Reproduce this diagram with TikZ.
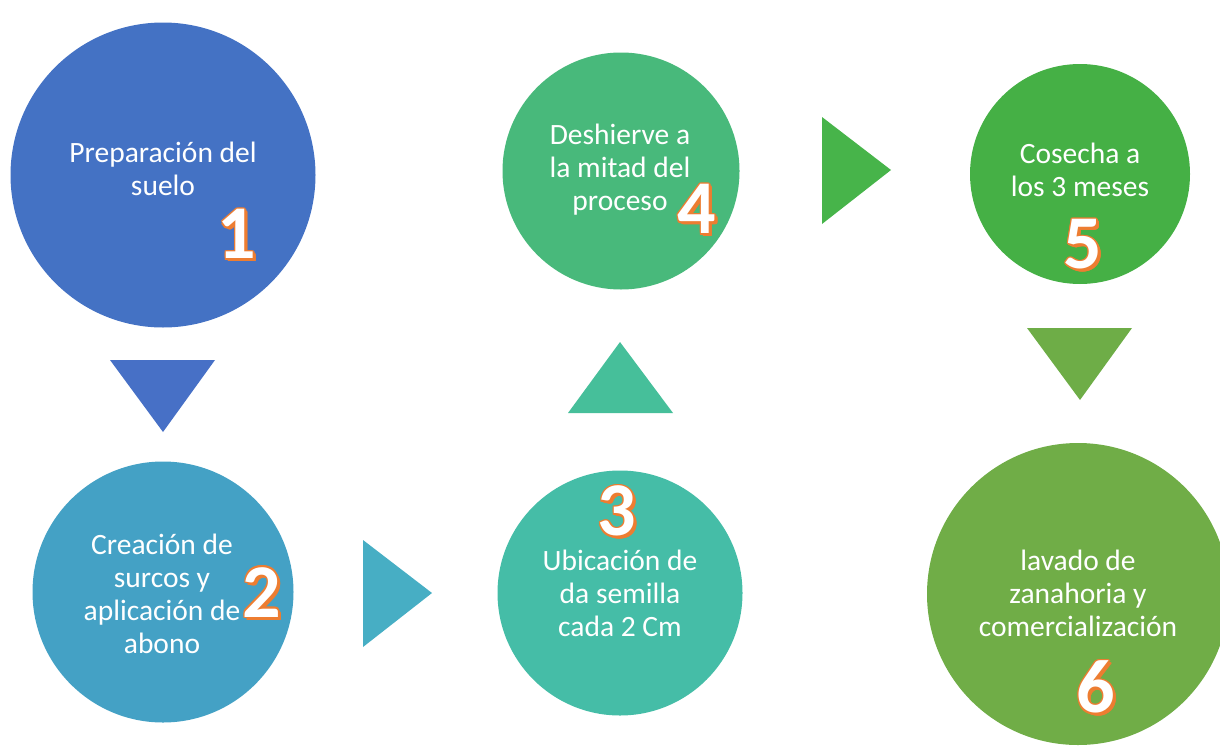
\documentclass[tikz,border=0pt]{standalone}
\usepackage{fontspec}
\setmainfont{Carlito}
\usepackage{xcolor}

\definecolor{stepA}{HTML}{4472C4}
\definecolor{stepB}{HTML}{44A1C5}
\definecolor{stepC}{HTML}{45BDA7}
\definecolor{stepD}{HTML}{48B97B}
\definecolor{stepE}{HTML}{45B045}
\definecolor{stepF}{HTML}{70AD47}
\definecolor{arrA}{HTML}{4770C6}
\definecolor{arrB}{HTML}{47AEC4}
\definecolor{arrC}{HTML}{46BF9A}
\definecolor{arrD}{HTML}{47B44A}
\definecolor{arrE}{HTML}{6EAD47}
\definecolor{numorange}{HTML}{ED7D31}

% one shifted copy of a digit
\newcommand{\oc}[3]{\makebox[0pt][l]{\kern#1\raisebox{#2}{#3}}}
% white digit with orange rim and shadow
\newcommand{\stepnum}[1]{%
  \textcolor{numorange}{%
    \oc{-1.5pt}{0pt}{#1}\oc{1.5pt}{0pt}{#1}\oc{0pt}{1.5pt}{#1}\oc{0pt}{-1.5pt}{#1}%
    \oc{-1.2pt}{1.2pt}{#1}\oc{1.2pt}{1.2pt}{#1}\oc{-1.2pt}{-1.2pt}{#1}%
    \oc{1.5pt}{-1.5pt}{#1}\oc{2.5pt}{-2.5pt}{#1}\oc{3pt}{-3pt}{#1}\oc{2pt}{-3pt}{#1}\oc{3pt}{-2pt}{#1}}%
  \textcolor{white}{#1}}

\tikzset{
  disc/.style={circle, inner sep=0pt, minimum size=#1},
  steptext/.style={text=white, align=center, inner sep=0pt,
    font=\fontsize{29.5}{33}\selectfont},
  bignum/.style={inner sep=0pt, font=\fontsize{76}{76}\selectfont\bfseries}
}

\begin{document}
\begin{tikzpicture}[x=1pt, y=-1pt]
    \useasboundingbox (0,0) rectangle (1220,747);

    % circles
    \node[disc=305, fill=stepA] (c1) at (163,175) {};
    \node[disc=261, fill=stepB] (c2) at (163,592) {};
    \node[disc=245, fill=stepC] (c3) at (620,593) {};
    \node[disc=237, fill=stepD] (c4) at (621,171) {};
    \node[disc=220, fill=stepE] (c5) at (1080,174) {};
    \node[disc=302, fill=stepF] (c6) at (1078,594) {};

    % triangles between the steps
    \fill[arrA] (110,360) -- (215,360) -- (163,432) -- cycle;
    \fill[arrB] (363,540) -- (363,647) -- (432,593) -- cycle;
    \fill[arrC] (568,413) -- (673,413) -- (620,342) -- cycle;
    \fill[arrD] (822,117) -- (822,224) -- (891,170) -- cycle;
    \fill[arrE] (1027,328) -- (1132,328) -- (1080,400) -- cycle;

    % texts
    \node[steptext] (t1) at (163,169) {Preparación del\\suelo};
    \node[steptext] (t2) at (162,594) {Creación de\\surcos y\\aplicación de\\abono};
    \node[steptext] (t3) at (620,593) {Ubicación de\\da semilla\\cada 2 Cm};
    \node[steptext] (t4) at (620,170) {Deshierve a\\la mitad del\\proceso};
    \node[steptext] (t5) at (1080,170) {Cosecha a\\los 3 meses};
    \node[steptext] (t6) at (1078,593) {lavado de\\zanahoria y\\comercialización};

    % numbers
    \node[bignum] (n1) at (237,235) {\stepnum{1}};
    \node[bignum] (n2) at (262,593) {\stepnum{2}};
    \node[bignum] (n3) at (617,512) {\stepnum{3}};
    \node[bignum] (n4) at (697,210) {\stepnum{4}};
    \node[bignum] (n5) at (1083,245) {\stepnum{5}};
    \node[bignum] (n6) at (1096,688) {\stepnum{6}};
\end{tikzpicture}
\end{document}
